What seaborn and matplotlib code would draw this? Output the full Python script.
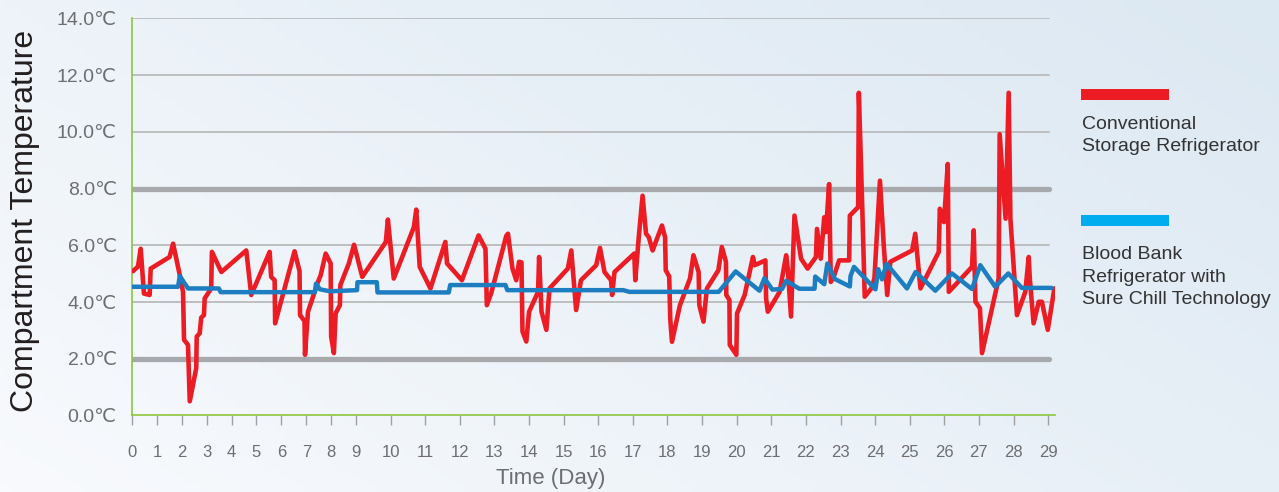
import matplotlib
matplotlib.use("Agg")
import matplotlib.pyplot as plt
from matplotlib.patches import Rectangle
import seaborn as sns
import pandas as pd
import numpy as np

# Conventional storage refrigerator (red)
red_day = [0.04, 0.24, 0.35, 0.48, 0.71, 0.75, 1.51, 1.65, 1.92, 2.05, 2.09, 2.25, 2.32, 2.58, 2.6,
           2.72, 2.78, 2.89, 2.92, 3.18, 3.21, 3.59, 4.59, 4.79, 5.53, 5.59, 5.73, 5.75, 6.53, 6.73,
           6.75, 6.93, 6.95, 7.07, 7.47, 7.58, 7.78, 7.98, 8.0, 8.11, 8.18, 8.35, 8.37, 8.71, 8.92,
           9.18, 9.86, 9.92, 10.09, 10.67, 10.74, 10.84, 11.15, 11.58, 11.63, 12.06, 12.54, 12.74,
           12.78, 12.91, 13.34, 13.39, 13.52, 13.63, 13.71, 13.78, 13.81, 13.92, 14.0, 14.26, 14.29,
           14.36, 14.5, 14.59, 15.12, 15.22, 15.36, 15.5, 15.94, 16.05, 16.18, 16.37, 16.4, 16.47,
           17.04, 17.07, 17.17, 17.28, 17.38, 17.46, 17.57, 17.84, 17.93, 17.95, 18.05, 18.08, 18.13,
           18.36, 18.65, 18.75, 18.9, 18.92, 19.04, 19.14, 19.47, 19.57, 19.69, 19.7, 19.79, 19.8,
           19.99, 20.01, 20.23, 20.47, 20.52, 20.83, 20.85, 20.9, 21.24, 21.43, 21.48, 21.57, 21.67,
           21.86, 22.05, 22.29, 22.32, 22.43, 22.53, 22.58, 22.67, 22.72, 22.82, 22.96, 23.25, 23.27,
           23.51, 23.53, 23.63, 23.7, 23.89, 23.98, 24.14, 24.25, 24.35, 24.44, 25.07, 25.16, 25.31,
           25.84, 25.87, 25.99, 26.1, 26.13, 26.8, 26.85, 26.9, 27.03, 27.09, 27.57, 27.6, 27.77,
           27.86, 27.91, 28.1, 28.34, 28.44, 28.47, 28.58, 28.73, 28.82, 28.99, 29.18]
red_temp = [5.09, 5.25, 5.88, 4.30, 4.25, 5.18, 5.59, 6.06, 4.95, 4.36, 2.67, 2.49, 0.5, 1.67, 2.78,
            2.90, 3.45, 3.54, 4.13, 4.48, 5.77, 5.06, 5.82, 4.25, 5.77, 4.89, 4.77, 3.25, 5.79, 5.09,
            3.54, 3.33, 2.14, 3.66, 4.71, 4.95, 5.71, 5.36, 2.78, 2.20, 3.60, 3.89, 4.60, 5.36, 6.02,
            4.89, 6.12, 6.91, 4.83, 6.64, 7.26, 5.24, 4.48, 6.12, 5.36, 4.77, 6.35, 5.88,
            3.89, 4.33, 6.33, 6.41, 5.18, 4.77, 5.42, 5.40, 2.96, 2.61, 3.66, 4.36, 5.59,
            3.66, 3.02, 4.48, 5.18, 5.82, 3.72, 4.77, 5.30, 5.91, 5.06, 4.77, 4.25, 5.06,
            5.71, 4.77, 6.29, 7.75, 6.41, 6.29, 5.82, 6.70, 6.29, 5.12, 4.90, 3.40, 2.60,
            3.89, 4.83, 5.65, 5.06, 3.89, 3.31, 4.48, 5.12, 5.94, 5.42, 4.25, 4.07, 2.49,
            2.14, 3.60, 4.25, 5.59, 5.30, 5.47, 4.13, 3.66, 4.36, 5.65, 5.12, 3.49, 7.05,
            5.53, 5.18, 5.59, 6.58, 5.53, 6.99, 6.47, 8.16, 4.71, 4.95, 5.47, 5.47, 7.05,
            7.35, 11.38, 7.29, 4.19, 4.48, 4.83, 8.28, 6.0, 4.25, 5.42, 5.82, 6.41, 4.48,
            5.77, 7.29, 6.82, 8.87, 4.36, 5.24, 6.53, 4.01, 3.78, 2.20, 4.83, 9.92, 6.94,
            11.38, 6.94, 3.54, 4.36, 5.59, 4.83, 3.25, 4.01, 4.01, 3.02, 4.48]

# Blood bank refrigerator with Sure Chill (blue)
blue_day = [0.0, 1.85, 1.92, 2.25, 3.49, 3.56, 7.35, 7.39, 7.55, 7.95, 9.03, 9.04, 9.6, 9.62, 11.68,
            11.72, 13.32, 13.37, 16.72, 16.9, 19.48, 19.97, 20.66, 20.8, 21.03, 21.31, 21.43, 21.81,
            22.25, 22.27, 22.53, 22.62, 22.84, 23.27, 23.29, 23.39, 23.58, 24.01, 24.09, 24.2, 24.33,
            24.92, 25.17, 25.74, 26.22, 26.8, 27.04, 27.47, 27.85, 28.24, 29.1]
blue_temp = [4.54, 4.54, 4.92, 4.48, 4.48, 4.35, 4.35, 4.65, 4.45, 4.38, 4.42, 4.7, 4.7, 4.34, 4.34,
             4.6, 4.6, 4.42, 4.42, 4.36, 4.36, 5.08, 4.4, 4.84, 4.44, 4.46, 4.75, 4.47,
             4.47, 4.9, 4.63, 5.36, 4.81, 4.55, 4.92, 5.24, 5.0, 4.45, 5.16, 4.8, 5.35,
             4.48, 5.06, 4.4, 5.01, 4.46, 5.3, 4.54, 5.01, 4.5, 4.5]

days = list(range(30))
y_ticks = [0, 2, 4, 6, 8, 10, 12, 14]
y_labels = ["%.1f℃" % v for v in y_ticks]

red = pd.DataFrame({"day": red_day, "temp": red_temp})
blue = pd.DataFrame({"day": blue_day, "temp": blue_temp})

sns.set_style("white")
plt.rcParams["font.family"] = ["Liberation Sans", "DejaVu Sans"]

fig = plt.figure(figsize=(12.79, 4.92), dpi=100)

# soft pale-blue background
bg = fig.add_axes([0, 0, 1, 1], zorder=-10)
gx = np.linspace(0, 1, 256)
gy = np.linspace(0, 1, 64)
grad = np.clip(0.55 * gx[None, :] + 0.35 * gy[:, None], 0, 1)
bg.imshow(grad, aspect="auto", extent=[0, 1, 0, 1], origin="lower",
          cmap=matplotlib.colors.LinearSegmentedColormap.from_list("bg", ["#f8fafd", "#dce8f2"]))
bg.axis("off")

ax = fig.add_axes([0.1032, 0.1555, 0.7217, 0.8069])
ax.set_facecolor("none")

# the day axis is stretched after day 9
def fwd(x):
    x = np.asarray(x, dtype=float)
    return np.where(x <= 9, x, 9 + (x - 9) * 1.39)

def inv(u):
    u = np.asarray(u, dtype=float)
    return np.where(u <= 9, u, 9 + (u - 9) / 1.39)

ax.set_xscale("function", functions=(fwd, inv))

for v in [4, 6, 10, 12, 14]:
    ax.axhline(v, xmax=0.993, color="#bdbec0", lw=1.4, zorder=1)
for v in [2, 8]:
    ax.axhline(v, xmax=0.993, color="#a7a9ac", lw=3.8, zorder=1)

sns.lineplot(data=red, x="day", y="temp", ax=ax, color="#ed1c24", lw=3.3,
             sort=False, estimator=None, zorder=3)
sns.lineplot(data=blue, x="day", y="temp", ax=ax, color="#1c7dc1", lw=3.2,
             sort=False, estimator=None, zorder=4)

ax.set_xlim(0, 29.2)
ax.set_ylim(0, 14)
ax.set_xticks(days)
ax.set_xticklabels([str(d) for d in days])
ax.set_yticks(y_ticks)
ax.set_yticklabels(y_labels)
ax.tick_params(axis="x", bottom=True, length=7, width=1, color="#a0a0a0", pad=14,
               labelsize=12, labelcolor="#6d6e71")
ax.tick_params(axis="y", left=False, length=0, pad=11, labelsize=14, labelcolor="#6d6e71")
ax.minorticks_off()

for side in ["top", "right"]:
    ax.spines[side].set_visible(False)
for side in ["left", "bottom"]:
    ax.spines[side].set_color("#8cc63f")
    ax.spines[side].set_linewidth(1.2)

ax.set_ylabel("Compartment Temperature", fontsize=23, color="#231f20")
ax.yaxis.set_label_coords(-0.1, 0.49)
ax.set_xlabel("Time (Day)", fontsize=16, color="#6d6e71")
ax.xaxis.set_label_coords(0.454, -0.133)

# legend drawn as swatches above text
fig.add_artist(Rectangle((0.845, 0.797), 0.0688, 0.0224, transform=fig.transFigure,
                         color="#ed1c24", lw=0))
fig.text(0.846, 0.765, "Conventional\nStorage Refrigerator", fontsize=14, linespacing=1.4,
         color="#333333", va="top", ha="left")
fig.add_artist(Rectangle((0.845, 0.5407), 0.0688, 0.0224, transform=fig.transFigure,
                         color="#00aeef", lw=0))
fig.text(0.846, 0.499, "Blood Bank\nRefrigerator with\nSure Chill Technology", fontsize=14,
         linespacing=1.4, color="#333333", va="top", ha="left")

fig.savefig("out.png", dpi=100)
